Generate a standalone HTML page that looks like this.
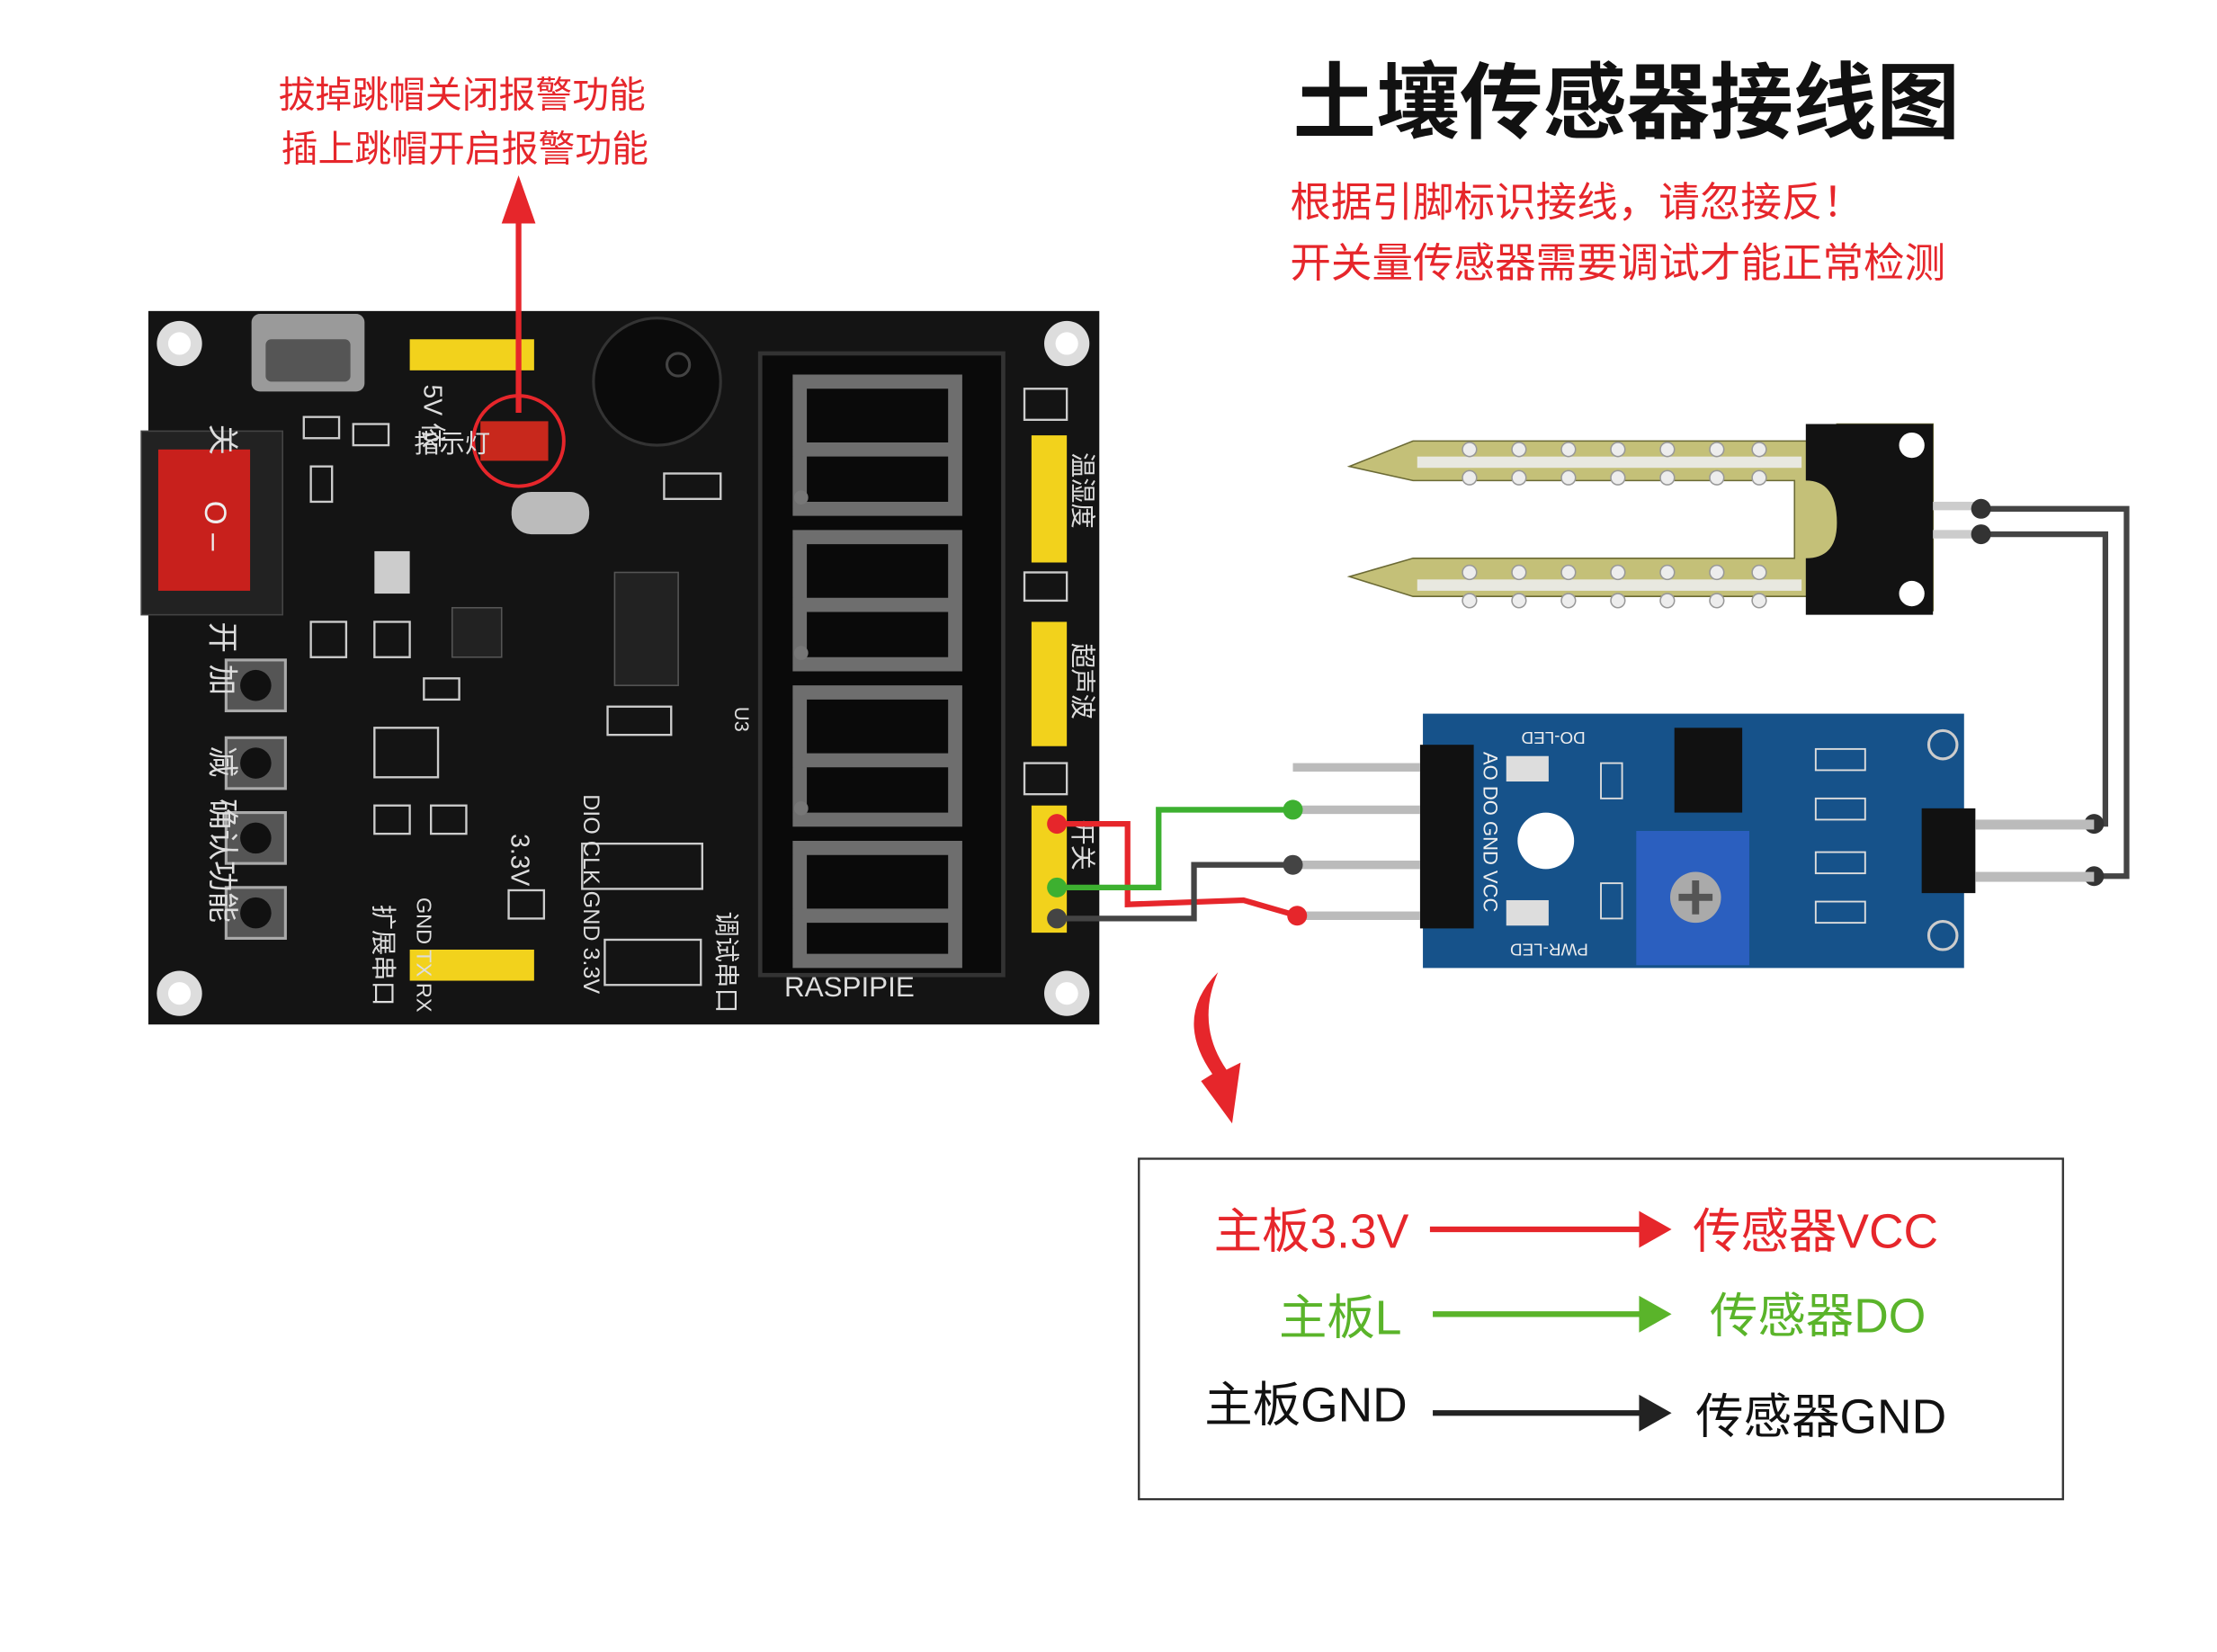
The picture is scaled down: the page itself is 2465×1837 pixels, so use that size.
<!DOCTYPE html>
<html><head><meta charset="utf-8"><style>
html,body{margin:0;padding:0;background:#fff;}
svg{display:block;}
text{font-family:"Liberation Sans","Noto Sans CJK SC",sans-serif;}
</style></head><body>
<svg width="2465" height="1837" viewBox="0 0 1569 1169" xmlns="http://www.w3.org/2000/svg">
<rect width="1569" height="1169" fill="#fff"/>
<!-- Title -->
<text x="915" y="93" font-size="59" font-weight="bold" fill="#111">土壤传感器接线图</text>
<text x="913" y="153" font-size="29" fill="#e6262b">根据引脚标识接线，请忽接反！</text>
<text x="913" y="196" font-size="29" fill="#e6262b">开关量传感器需要调试才能正常检测</text>
<!-- top left note -->
<text x="327" y="76" font-size="26" fill="#e6262b" text-anchor="middle">拔掉跳帽关闭报警功能</text>
<text x="329" y="114" font-size="26" fill="#e6262b" text-anchor="middle">插上跳帽开启报警功能</text>

<!-- PCB -->
<rect x="105" y="220" width="673" height="505" fill="#141414"/>
<circle cx="127" cy="243" r="16" fill="#ddd"/><circle cx="127" cy="243" r="8" fill="#fff"/>
<circle cx="755" cy="243" r="16" fill="#ddd"/><circle cx="755" cy="243" r="8" fill="#fff"/>
<circle cx="127" cy="703" r="16" fill="#ddd"/><circle cx="127" cy="703" r="8" fill="#fff"/>
<circle cx="755" cy="703" r="16" fill="#ddd"/><circle cx="755" cy="703" r="8" fill="#fff"/>
<!-- usb -->
<rect x="178" y="222" width="80" height="55" rx="6" fill="#9a9a9a"/>
<rect x="188" y="240" width="60" height="30" rx="4" fill="#555"/>
<!-- power switch -->
<rect x="100" y="305" width="100" height="130" fill="#222" stroke="#444"/>
<rect x="112" y="318" width="65" height="100" fill="#c8201c"/>
<text x="145" y="372" font-size="22" fill="#eee" text-anchor="middle" transform="rotate(90 145 372)">O –</text>
<!-- yellow headers -->
<rect x="290" y="240" width="88" height="22" fill="#f2d21c"/>
<rect x="290" y="672" width="88" height="22" fill="#f2d21c"/>
<rect x="730" y="308" width="25" height="90" fill="#f2d21c"/>
<rect x="730" y="440" width="25" height="88" fill="#f2d21c"/>
<rect x="730" y="570" width="25" height="90" fill="#f2d21c"/>
<!-- buzzer -->
<circle cx="465" cy="270" r="45" fill="#0b0b0b" stroke="#333" stroke-width="2"/>
<circle cx="480" cy="258" r="8" fill="none" stroke="#444" stroke-width="2"/>
<!-- buttons -->
<g fill="#555" stroke="#aaa" stroke-width="2">
<rect x="160" y="467" width="42" height="36"/><rect x="160" y="522" width="42" height="36"/>
<rect x="160" y="575" width="42" height="36"/><rect x="160" y="628" width="42" height="36"/>
</g>
<g fill="#111"><circle cx="181" cy="485" r="11"/><circle cx="181" cy="540" r="11"/><circle cx="181" cy="593" r="11"/><circle cx="181" cy="646" r="11"/></g>
<!-- chips -->
<rect x="435" y="405" width="45" height="80" fill="#222" stroke="#555"/>
<rect x="320" y="430" width="35" height="35" fill="#222" stroke="#555"/>
<rect x="265" y="390" width="25" height="30" fill="#ccc"/>
<rect x="362" y="348" width="55" height="30" rx="14" fill="#bbb"/>
<rect x="340" y="298" width="48" height="28" fill="#c8281c"/>
<circle cx="367" cy="312" r="32" fill="none" stroke="#e6262b" stroke-width="2.5"/>
<!-- misc silkscreen components -->
<g fill="none" stroke="#ccc" stroke-width="1.5">
<rect x="215" y="295" width="25" height="15"/><rect x="250" y="300" width="25" height="15"/>
<rect x="220" y="330" width="15" height="25"/><rect x="220" y="440" width="25" height="25"/>
<rect x="265" y="440" width="25" height="25"/><rect x="300" y="480" width="25" height="15"/>
<rect x="265" y="515" width="45" height="35"/><rect x="305" y="570" width="25" height="20"/>
<rect x="265" y="570" width="25" height="20"/><rect x="412" y="597" width="85" height="32"/>
<rect x="428" y="665" width="68" height="32"/><rect x="360" y="630" width="25" height="20"/>
<rect x="430" y="500" width="45" height="20"/><rect x="470" y="335" width="40" height="18"/>
<rect x="725" y="275" width="30" height="22"/><rect x="725" y="405" width="30" height="20"/>
<rect x="725" y="540" width="30" height="22"/>
</g>
<g fill="#ddd" font-size="18">
<text x="150" y="300" font-size="22" transform="rotate(90 150 300)">关</text>
<text x="150" y="440" font-size="22" transform="rotate(90 150 440)">开</text>
<text x="150" y="470" font-size="22" transform="rotate(90 150 470)">加</text>
<text x="150" y="528" font-size="22" transform="rotate(90 150 528)">减</text>
<text x="150" y="565" font-size="22" transform="rotate(90 150 565)">确认功能</text>
<text x="293" y="320">指示灯</text>
<text x="300" y="272" transform="rotate(90 300 272)">5V 依</text>
<text x="265" y="640" transform="rotate(90 265 640)">扩展串口</text>
<text x="295" y="635" font-size="15" transform="rotate(90 295 635)">GND TX RX</text>
<text x="362" y="590" transform="rotate(90 362 590)">3.3V</text>
<text x="413" y="562" font-size="16" transform="rotate(90 413 562)">DIO CLK GND 3.3V</text>
<text x="508" y="645" transform="rotate(90 508 645)">调试串口</text>
<text x="760" y="320" transform="rotate(90 760 320)">温湿度</text>
<text x="760" y="455" transform="rotate(90 760 455)">超声波</text>
<text x="760" y="580" transform="rotate(90 760 580)">开关</text>
<text x="555" y="705" font-size="20" font-family="Liberation Serif">RASPIPIE</text>
<text x="520" y="500" font-size="14" transform="rotate(90 520 500)">U3</text>
</g>
<!-- 7-seg display -->
<rect x="538" y="250" width="172" height="440" fill="#0a0a0a" stroke="#333" stroke-width="3"/>
<g fill="none" stroke="#6e6e6e" stroke-width="10" stroke-linejoin="miter">
<path d="M566 270 H676 V318 H566 Z M566 318 V360 H676 V318"/>
<path d="M566 380 H676 V428 H566 Z M566 428 V470 H676 V428"/>
<path d="M566 490 H676 V538 H566 Z M566 538 V580 H676 V538"/>
<path d="M566 600 H676 V648 H566 Z M566 648 V680 H676 V648"/>
</g>
<g fill="#777"><circle cx="567" cy="352" r="5"/><circle cx="567" cy="462" r="5"/><circle cx="567" cy="572" r="5"/></g>

<!-- red arrow up -->
<line x1="367" y1="292" x2="367" y2="150" stroke="#e6262b" stroke-width="4"/>
<polygon points="355,158 367,124 379,158" fill="#e6262b"/>

<!-- soil probe -->
<path d="M955 330 L1000 312 H1300 V300 H1368 V432 H1300 V422 H1000 L955 408 L1000 395 H1270 V340 H1000 Z" fill="#c4c078" stroke="#6b6a35"/>
<path d="M1278 300 H1368 V435 H1278 V395 Q1300 395 1300 370 Q1300 340 1278 340 Z" fill="#121212"/>
<circle cx="1353" cy="315" r="9" fill="#fff"/><circle cx="1353" cy="420" r="9" fill="#fff"/>
<rect x="1003" y="323" width="272" height="8" fill="#e8e8e0"/>
<rect x="1003" y="410" width="272" height="8" fill="#e8e8e0"/>
<g fill="#ededed" stroke="#999">
<circle cx="1040" cy="318" r="5"/><circle cx="1075" cy="318" r="5"/><circle cx="1110" cy="318" r="5"/><circle cx="1145" cy="318" r="5"/><circle cx="1180" cy="318" r="5"/><circle cx="1215" cy="318" r="5"/><circle cx="1245" cy="318" r="5"/>
<circle cx="1040" cy="338" r="5"/><circle cx="1075" cy="338" r="5"/><circle cx="1110" cy="338" r="5"/><circle cx="1145" cy="338" r="5"/><circle cx="1180" cy="338" r="5"/><circle cx="1215" cy="338" r="5"/><circle cx="1245" cy="338" r="5"/>
<circle cx="1040" cy="405" r="5"/><circle cx="1075" cy="405" r="5"/><circle cx="1110" cy="405" r="5"/><circle cx="1145" cy="405" r="5"/><circle cx="1180" cy="405" r="5"/><circle cx="1215" cy="405" r="5"/><circle cx="1245" cy="405" r="5"/>
<circle cx="1040" cy="425" r="5"/><circle cx="1075" cy="425" r="5"/><circle cx="1110" cy="425" r="5"/><circle cx="1145" cy="425" r="5"/><circle cx="1180" cy="425" r="5"/><circle cx="1215" cy="425" r="5"/><circle cx="1245" cy="425" r="5"/>
</g>
<rect x="1368" y="355" width="35" height="6" fill="#ccc"/><rect x="1368" y="375" width="35" height="6" fill="#ccc"/>

<!-- gray wires right -->
<g fill="none" stroke="#444" stroke-width="4">
<polyline points="1402,360 1505,360 1505,620 1482,620"/>
<polyline points="1402,378 1490,378 1490,583 1482,583"/>
</g>
<g fill="#333"><circle cx="1402" cy="360" r="7"/><circle cx="1402" cy="378" r="7"/><circle cx="1482" cy="583" r="7"/><circle cx="1482" cy="620" r="7"/></g>

<!-- blue module -->
<rect x="1007" y="505" width="383" height="180" fill="#16528a"/>
<rect x="1005" y="527" width="38" height="130" fill="#111"/>
<g fill="#bbb"><rect x="915" y="540" width="90" height="6"/><rect x="915" y="570" width="90" height="6"/><rect x="915" y="609" width="90" height="6"/><rect x="915" y="645" width="90" height="6"/></g>
<rect x="1360" y="572" width="38" height="60" fill="#111"/>
<g fill="#bbb"><rect x="1398" y="580" width="84" height="7"/><rect x="1398" y="617" width="84" height="7"/></g>
<circle cx="1094" cy="595" r="20" fill="#fff"/>
<rect x="1185" y="515" width="48" height="60" fill="#111"/>
<rect x="1158" y="588" width="80" height="95" fill="#2b5fbf"/>
<circle cx="1200" cy="635" r="18" fill="#aaa"/>
<path d="M1188 635 H1212 M1200 623 V647" stroke="#555" stroke-width="5"/>
<rect x="1066" y="535" width="30" height="18" fill="#ddd"/><rect x="1066" y="637" width="30" height="18" fill="#ddd"/>
<circle cx="1375" cy="527" r="10" fill="none" stroke="#ccc" stroke-width="2"/>
<circle cx="1375" cy="662" r="10" fill="none" stroke="#ccc" stroke-width="2"/>
<g fill="none" stroke="#ddd" stroke-width="1.2">
<rect x="1285" y="530" width="35" height="15"/><rect x="1285" y="565" width="35" height="15"/>
<rect x="1285" y="603" width="35" height="15"/><rect x="1285" y="638" width="35" height="15"/>
<rect x="1133" y="540" width="15" height="25"/><rect x="1133" y="625" width="15" height="25"/>
</g>
<g fill="#eee" font-size="12">
<text x="1072" y="526" transform="rotate(180 1097 522)">DO-LED</text>
<text x="1070" y="668" transform="rotate(180 1097 668)">PWR-LED</text>
<text x="1050" y="532" font-size="14" transform="rotate(90 1050 532)">AO  DO GND VCC</text>
</g>

<!-- wires from mainboard -->
<polyline points="748,583 798,583 798,640 880,637 918,648" fill="none" stroke="#e6262b" stroke-width="4"/>
<polyline points="748,628 820,628 820,573 915,573" fill="none" stroke="#3db030" stroke-width="4"/>
<polyline points="748,650 845,650 845,612 915,612" fill="none" stroke="#444" stroke-width="4"/>
<circle cx="748" cy="583" r="7" fill="#e6262b"/><circle cx="748" cy="628" r="7" fill="#3db030"/><circle cx="748" cy="650" r="7" fill="#444"/>
<circle cx="915" cy="573" r="7" fill="#3db030"/><circle cx="915" cy="612" r="7" fill="#444"/><circle cx="918" cy="648" r="7" fill="#e6262b"/>

<!-- curved red arrow -->
<path d="M862 688 Q830 720 858 760 L850 765 L872 795 L878 752 L868 757 Q846 725 862 688 Z" fill="#e6262b"/>

<!-- legend box -->
<rect x="806" y="820" width="654" height="241" fill="#fff" stroke="#333" stroke-width="1.5"/>
<text x="997" y="883" font-size="34" fill="#e6262b" text-anchor="end">主板3.3V</text>
<line x1="1012" y1="870" x2="1165" y2="870" stroke="#e6262b" stroke-width="4"/>
<polygon points="1160,857 1183,870 1160,883" fill="#e6262b"/>
<text x="1198" y="883" font-size="34" fill="#e6262b">传感器VCC</text>
<text x="992" y="944" font-size="34" fill="#5ab42a" text-anchor="end">主板L</text>
<line x1="1014" y1="930" x2="1165" y2="930" stroke="#5ab42a" stroke-width="4"/>
<polygon points="1160,917 1183,930 1160,943" fill="#5ab42a"/>
<text x="1210" y="943" font-size="34" fill="#5ab42a">传感器DO</text>
<text x="996" y="1006" font-size="34" fill="#111" text-anchor="end">主板GND</text>
<line x1="1014" y1="1000" x2="1165" y2="1000" stroke="#222" stroke-width="4"/>
<polygon points="1160,987 1183,1000 1160,1013" fill="#222"/>
<text x="1200" y="1014" font-size="34" fill="#111">传感器GND</text>
</svg>
</body></html>
